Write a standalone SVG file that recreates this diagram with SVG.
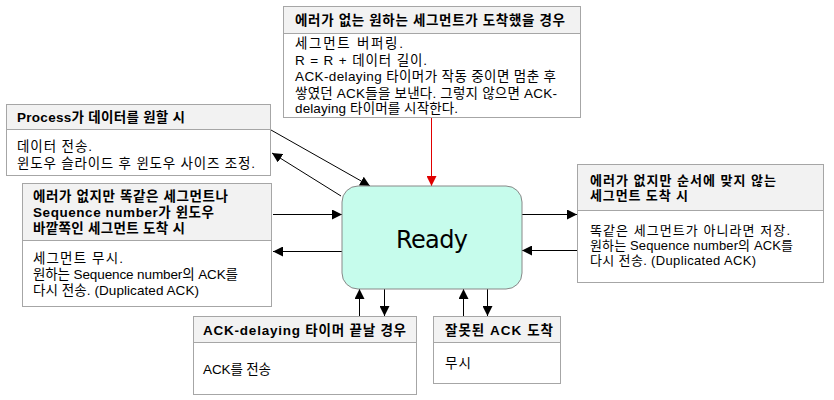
<svg xmlns="http://www.w3.org/2000/svg" width="834" height="400" viewBox="0 0 834 400">
<style>
.box{fill:#fff;stroke:#a6a6a6;stroke-width:1}
.hdr{fill:#f2f2f2;stroke:#a6a6a6;stroke-width:1}
text{font-family:"Liberation Sans","Noto Sans CJK KR",sans-serif;font-size:13.5px;fill:#000}
.b{font-weight:bold}
.s{font-size:13px}
.big{font-family:"DejaVu Sans","Liberation Sans",sans-serif;font-size:24px}
.c{stroke:#000;stroke-width:1;fill:none;marker-end:url(#ah)}
.r{stroke:#e00000;stroke-width:1;fill:none;marker-end:url(#rh)}
</style>
<defs>
<marker id="ah" viewBox="0 0 10 10" refX="10" refY="5" markerWidth="10" markerHeight="10" markerUnits="userSpaceOnUse" orient="auto"><path d="M0,0 L10,5 L0,10 z" fill="#000"/></marker>
<marker id="rh" viewBox="0 0 10 10" refX="10" refY="5" markerWidth="10" markerHeight="10" markerUnits="userSpaceOnUse" orient="auto"><path d="M0,0 L10,5 L0,10 z" fill="#e00000"/></marker>
</defs>
<rect width="834" height="400" fill="#fff"/>
<g id="connectors">
<path class="r" d="M431.5,118 V186"/>
<path class="c" d="M271,130 L370,186"/>
<path class="c" d="M341,196 L272,153"/>
<path class="c" d="M273,214.5 H342"/>
<path class="c" d="M342,251.5 H273"/>
<path class="c" d="M522,214.5 H577"/>
<path class="c" d="M577,250.5 H522"/>
<path class="c" d="M359.5,316 V289"/>
<path class="c" d="M384.5,289 V316"/>
<path class="c" d="M463.5,316 V289"/>
<path class="c" d="M487.5,289 V316"/>
</g>
<g id="ready">
<rect x="342" y="186" width="180" height="103" rx="16" fill="#c6fcec" stroke="#888" stroke-width="1"/>
<text class="big" x="432" y="248" text-anchor="middle" textLength="72">Ready</text>
</g>
<g id="n-top">
<rect class="box" x="283.5" y="6.5" width="297" height="111"/>
<rect class="hdr" x="283.5" y="6.5" width="297" height="27"/>
<text class="b" x="295" y="25" textLength="270">에러가 없는 원하는 세그먼트가 도착했을 경우</text>
<text x="295" y="48" textLength="108">세그먼트 버퍼링.</text>
<text x="295" y="64.5" textLength="132">R = R + 데이터 길이.</text>
<text x="295" y="81" textLength="261">ACK-delaying 타이머가 작동 중이면 멈춘 후</text>
<text x="295" y="97.5" textLength="262">쌓였던 ACK들을 보낸다. 그렇지 않으면 ACK-</text>
<text x="295" y="113" textLength="163">delaying 타이머를 시작한다.</text>
</g>
<g id="n-process">
<rect class="box" x="6.5" y="104.5" width="264" height="71"/>
<rect class="hdr" x="6.5" y="104.5" width="264" height="25"/>
<text class="b" x="17" y="122" textLength="168">Process가 데이터를 원할 시</text>
<text x="17" y="151" textLength="75">데이터 전송.</text>
<text x="17" y="167.5" textLength="238">윈도우 슬라이드 후 윈도우 사이즈 조정.</text>
</g>
<g id="n-dup">
<rect class="box" x="22.5" y="183.5" width="249" height="123"/>
<rect class="hdr" x="22.5" y="183.5" width="249" height="57"/>
<text class="b" x="33" y="201" textLength="195">에러가 없지만 똑같은 세그먼트나</text>
<text class="b" x="33" y="217" textLength="181">Sequence number가 윈도우</text>
<text class="b" x="33" y="233" textLength="152">바깥쪽인 세그먼트 도착 시</text>
<text x="33" y="263" textLength="90">세그먼트 무시.</text>
<text x="33" y="279" textLength="205">원하는 Sequence number의 ACK를</text>
<text x="33" y="295" textLength="166">다시 전송. (Duplicated ACK)</text>
</g>
<g id="n-order">
<rect class="box" x="577.5" y="164.5" width="246" height="118"/>
<rect class="hdr" x="577.5" y="164.5" width="246" height="46"/>
<text class="b s" x="590" y="185" textLength="186">에러가 없지만 순서에 맞지 않는</text>
<text class="b s" x="590" y="200" textLength="98">세그먼트 도착 시</text>
<text class="s" x="590" y="235" textLength="200">똑같은 세그먼트가 아니라면 저장.</text>
<text class="s" x="590" y="250" textLength="203">원하는 Sequence number의 ACK를</text>
<text class="s" x="590" y="264.5" textLength="166">다시 전송. (Duplicated ACK)</text>
</g>
<g id="n-timer">
<rect class="box" x="193.5" y="316.5" width="223" height="78"/>
<rect class="hdr" x="193.5" y="316.5" width="223" height="26"/>
<text class="b" x="203" y="334.5" textLength="203">ACK-delaying 타이머 끝날 경우</text>
<text x="203" y="374" textLength="68">ACK를 전송</text>
</g>
<g id="n-badack">
<rect class="box" x="433.5" y="316.5" width="127" height="67"/>
<rect class="hdr" x="433.5" y="316.5" width="127" height="26"/>
<text class="b" x="445" y="334.5" textLength="108">잘못된 ACK 도착</text>
<text x="445" y="368" textLength="26">무시</text>
</g>
</svg>
